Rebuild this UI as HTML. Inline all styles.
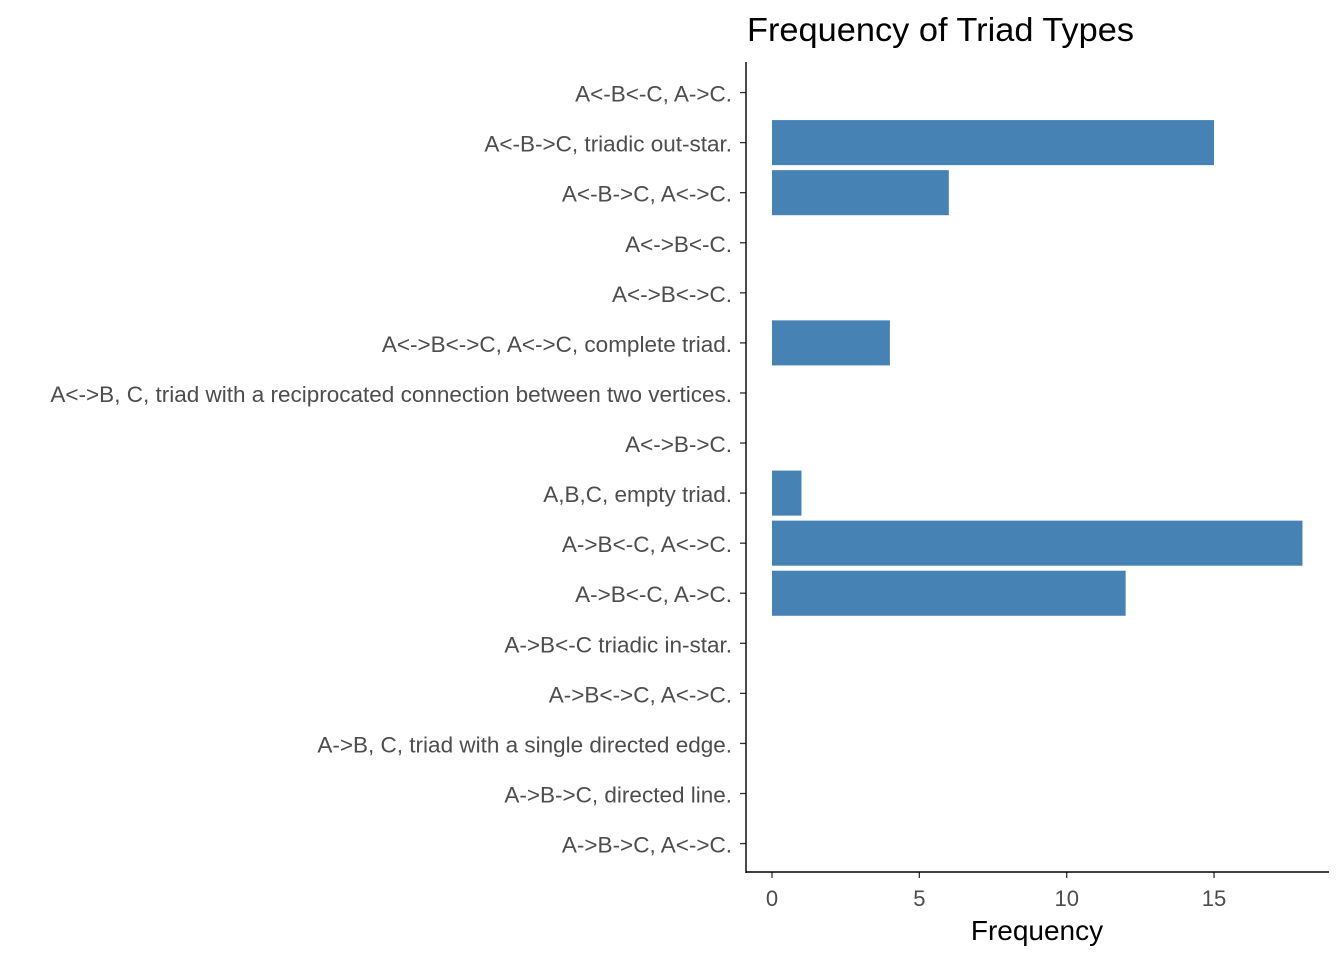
<!DOCTYPE html>
<html><head><meta charset="utf-8"><style>
html,body{margin:0;padding:0;background:#fff;}
svg{display:block;font-family:"Liberation Sans",Arial,sans-serif;}
</style></head><body>
<svg id="chart" width="1344" height="960" viewBox="0 0 1344 960">
<rect width="1344" height="960" fill="#fff"/>
<text x="747" y="41" font-size="33" fill="#000" textLength="387" lengthAdjust="spacingAndGlyphs">Frequency of Triad Types</text>
<g id="bars"></g>
<g id="yaxis"></g>
<g id="xaxis"></g>
<line x1="746" y1="62" x2="746" y2="873" stroke="#000" stroke-width="1.4"/>
<line x1="745.5" y1="872" x2="1329" y2="872" stroke="#000" stroke-width="1.4"/>
<text x="1037" y="940" font-size="28" text-anchor="middle" fill="#000">Frequency</text>
</svg>
<script>
const categories = ["A<-B<-C, A->C.","A<-B->C, triadic out-star.","A<-B->C, A<->C.","A<->B<-C.","A<->B<->C.","A<->B<->C, A<->C,  complete triad.","A<->B, C, triad with a reciprocated connection between two vertices.","A<->B->C.","A,B,C, empty triad.","A->B<-C, A<->C.","A->B<-C, A->C.","A->B<-C triadic in-star.","A->B<->C, A<->C.","A->B, C, triad with a single directed edge.","A->B->C, directed line.","A->B->C, A<->C."];
const values = [0,15,6,0,0,4,0,0,1,18,12,0,0,0,0,0];
const xTicks = [0,5,10,15];
const NS="http://www.w3.org/2000/svg";
const x0=772, xs=29.47;
function xPos(v){return x0+v*xs;}
const yTop=62.5, band=50.07;
function yPos(i){return yTop+(i+0.6)*band;}
function mk(t,a,p){const e=document.createElementNS(NS,t);for(const k in a)e.setAttribute(k,a[k]);p.appendChild(e);return e;}
const bars=document.getElementById('bars'), ya=document.getElementById('yaxis'), xa=document.getElementById('xaxis');
categories.forEach((c,i)=>{
  const y=yPos(i);
  if(values[i]>0){
    const r=mk('rect',{x:xPos(0),y:y-band*0.45,width:xPos(values[i])-xPos(0),height:band*0.9,fill:'#4682b4'},bars);
    
    
  }
  const tk=mk('line',{x1:740,x2:746,y1:y,y2:y,stroke:'#333','stroke-width':1.3},ya);
  
  
  const t=mk('text',{x:732,y:y+9,'font-size':22.5,'text-anchor':'end',fill:'#4d4d4d'},ya);
  t.textContent=c;
  
  
});
xTicks.forEach(v=>{
  const x=xPos(v);
  const tk=mk('line',{x1:x,x2:x,y1:872,y2:878,stroke:'#333','stroke-width':1.3},xa);
  
  
  const t=mk('text',{x:x,y:906,'font-size':22,'text-anchor':'middle',fill:'#4d4d4d'},xa);
  t.textContent=v;
  
  
});
</script>
</body></html>
